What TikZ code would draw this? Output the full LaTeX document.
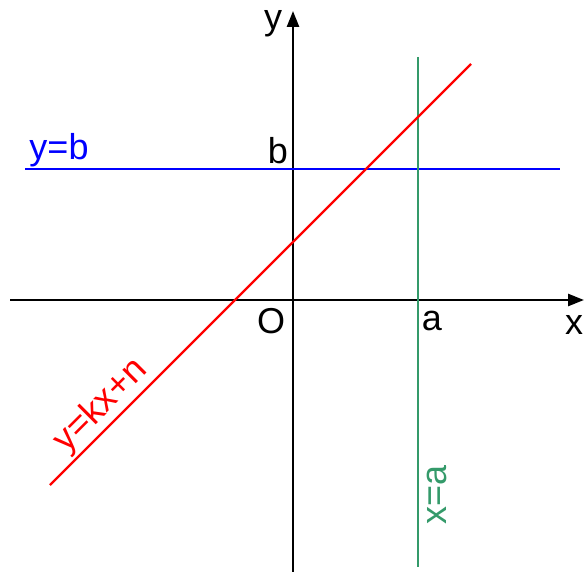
\documentclass[tikz,border=0pt]{standalone}
\usepackage{fontspec}
\setmainfont{Liberation Sans}
\usetikzlibrary{arrows.meta}
\definecolor{lgreen}{RGB}{52,154,106}
\tikzset{
  axis/.style={line width=2.6pt,-{Triangle[length=16pt,width=12pt]}},
  graphline/.style={line width=2.4pt},
  lbl/.style={font=\fontsize{36}{36}\selectfont,inner sep=0pt},
}
\begin{document}
\begin{tikzpicture}[x=1pt,y=-1pt]
\useasboundingbox (0,0) rectangle (584,572);
% axes
\coordinate (xs) at (10,300);
\coordinate (xe) at (584,300);
\coordinate (ys) at (293,572);
\coordinate (ye) at (293,11);
\draw[axis] (xs) -- (xe);
\draw[axis] (ys) -- (ye);
% lines
\coordinate (bs) at (25,169);
\coordinate (be) at (560,169);
\draw[graphline,blue] (bs) -- (be);
\coordinate (as) at (418,57);
\coordinate (ae) at (418,567);
\draw[graphline,lgreen] (as) -- (ae);
\coordinate (rs) at (50,485);
\coordinate (re) at (471,64);
\draw[graphline,red] (rs) -- (re);
% labels
\node[lbl] (ly) at (273,24) {y};
\node[lbl] (lx) at (574,325) {x};
\node[lbl] (lO) at (271,321) {O};
\node[lbl] (la) at (432,321) {a};
\node[lbl] (lb) at (278,151) {b};
\node[lbl,blue] (lyb) at (59,150) {y=b};
\node[lbl,red,rotate=45] (lk) at (101,406) {y=kx+n};
\node[lbl,lgreen,rotate=90] (lxa) at (437,495) {x=a};
\end{tikzpicture}
\end{document}
